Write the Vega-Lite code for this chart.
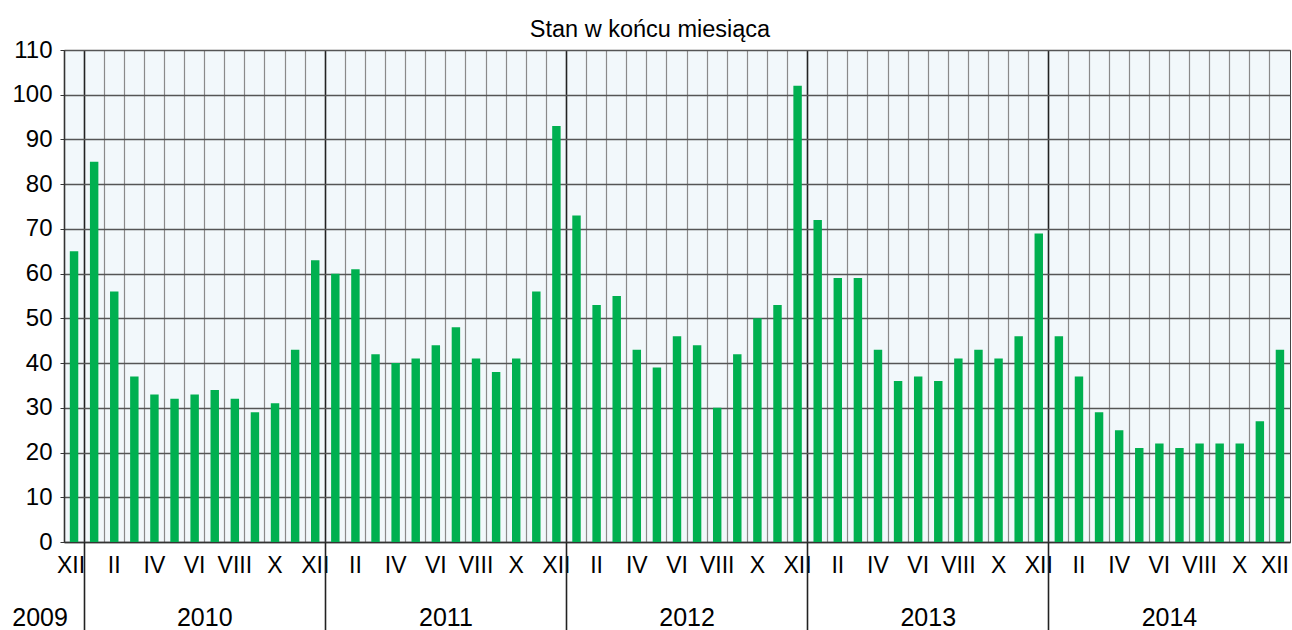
{
  "$schema": "https://vega.github.io/schema/vega-lite/v6.json",
  "autosize": "none",
  "width": 1226,
  "height": 492,
  "padding": {"left": 64, "top": 50, "right": 2, "bottom": 88},
  "background": "white",
  "title": {"text": "Stan w końcu miesiąca", "font": "Liberation Sans", "fontSize": 23.5, "fontWeight": "normal", "color": "#000000", "anchor": "middle", "offset": -3, "dx": -27},
  "config": {
    "view": {"stroke": "#444444", "strokeWidth": 1, "fill": "#F2F8FB"},
    "axis": {"labelFont": "Liberation Sans", "labelColor": "#000000"}
  },
  "data": {"values": [
    {"m": "2009-12", "v": 65},
    {"m": "2010-01", "v": 85}, {"m": "2010-02", "v": 56}, {"m": "2010-03", "v": 37}, {"m": "2010-04", "v": 33},
    {"m": "2010-05", "v": 32}, {"m": "2010-06", "v": 33}, {"m": "2010-07", "v": 34}, {"m": "2010-08", "v": 32},
    {"m": "2010-09", "v": 29}, {"m": "2010-10", "v": 31}, {"m": "2010-11", "v": 43}, {"m": "2010-12", "v": 63},
    {"m": "2011-01", "v": 60}, {"m": "2011-02", "v": 61}, {"m": "2011-03", "v": 42}, {"m": "2011-04", "v": 40},
    {"m": "2011-05", "v": 41}, {"m": "2011-06", "v": 44}, {"m": "2011-07", "v": 48}, {"m": "2011-08", "v": 41},
    {"m": "2011-09", "v": 38}, {"m": "2011-10", "v": 41}, {"m": "2011-11", "v": 56}, {"m": "2011-12", "v": 93},
    {"m": "2012-01", "v": 73}, {"m": "2012-02", "v": 53}, {"m": "2012-03", "v": 55}, {"m": "2012-04", "v": 43},
    {"m": "2012-05", "v": 39}, {"m": "2012-06", "v": 46}, {"m": "2012-07", "v": 44}, {"m": "2012-08", "v": 30},
    {"m": "2012-09", "v": 42}, {"m": "2012-10", "v": 50}, {"m": "2012-11", "v": 53}, {"m": "2012-12", "v": 102},
    {"m": "2013-01", "v": 72}, {"m": "2013-02", "v": 59}, {"m": "2013-03", "v": 59}, {"m": "2013-04", "v": 43},
    {"m": "2013-05", "v": 36}, {"m": "2013-06", "v": 37}, {"m": "2013-07", "v": 36}, {"m": "2013-08", "v": 41},
    {"m": "2013-09", "v": 43}, {"m": "2013-10", "v": 41}, {"m": "2013-11", "v": 46}, {"m": "2013-12", "v": 69},
    {"m": "2014-01", "v": 46}, {"m": "2014-02", "v": 37}, {"m": "2014-03", "v": 29}, {"m": "2014-04", "v": 25},
    {"m": "2014-05", "v": 21}, {"m": "2014-06", "v": 22}, {"m": "2014-07", "v": 21}, {"m": "2014-08", "v": 22},
    {"m": "2014-09", "v": 22}, {"m": "2014-10", "v": 22}, {"m": "2014-11", "v": 27}, {"m": "2014-12", "v": 43}
  ]},
  "resolve": {"axis": {"x": "independent"}},
  "layer": [
    {
      "mark": {"type": "bar", "color": "#00B050", "width": {"band": 0.42}},
      "encoding": {
        "x": {
          "field": "m", "type": "ordinal", "sort": null,
          "scale": {"paddingInner": 0, "paddingOuter": 0},
          "axis": {
            "title": null, "orient": "bottom", "bandPosition": 0,
            "ticks": false, "domain": true, "domainColor": "#333333", "domainWidth": 1.5,
            "labelAngle": 0, "labelFontSize": 23, "labelPadding": 12,
            "labelOffset": {"condition": [{"test": "datum.value == '2009-12'", "value": -3}, {"test": "datum.value == '2014-12'", "value": -5}], "value": 0},
            "labelBaseline": "top",
            "labelExpr": "toNumber(substring(datum.value,5,7)) % 2 == 0 ? ['','I','II','III','IV','V','VI','VII','VIII','IX','X','XI','XII'][toNumber(substring(datum.value,5,7))] : ''",
            "grid": true,
            "gridColor": {"condition": {"test": "substring(datum.value,5,7) == '01'", "value": "#222222"}, "value": "#8a8a8a"},
            "gridWidth": {"condition": {"test": "substring(datum.value,5,7) == '01'", "value": 1.6}, "value": 1.2}
          }
        },
        "y": {
          "field": "v", "type": "quantitative",
          "scale": {"domain": [0, 110], "nice": false},
          "axis": {
            "title": null, "values": [0, 10, 20, 30, 40, 50, 60, 70, 80, 90, 100, 110],
            "labelFontSize": 24, "labelPadding": 8, "tickSize": 4, "tickColor": "#333333",
            "domainColor": "#333333", "domainWidth": 1.5,
            "grid": true, "gridColor": "#555555", "gridWidth": 1.3
          }
        }
      }
    },
    {
      "mark": {"type": "bar", "opacity": 0},
      "encoding": {
        "x": {
          "field": "m", "type": "ordinal", "sort": null,
          "axis": {
            "title": null, "orient": "bottom", "bandPosition": 0, "offset": 0,
            "domain": false, "grid": false,
            "ticks": true, "tickSize": 88, "tickColor": "#222222", "tickWidth": 1.6,
            "tickOpacity": {"condition": {"test": "substring(datum.value,5,7) == '01'", "value": 1}, "value": 0},
            "labelAngle": 0, "labelFontSize": 25, "labelPadding": -25, "labelBaseline": "top",
            "labelAlign": "center",
            "labelOffset": {"condition": {"test": "datum.value == '2009-12'", "value": -34}, "value": -10},
            "labelExpr": "substring(datum.value,5,7) == '07' ? substring(datum.value,0,4) : (datum.value == '2009-12' ? '2009' : '')"
          }
        },
        "y": {"field": "v", "type": "quantitative"}
      }
    }
  ]
}
